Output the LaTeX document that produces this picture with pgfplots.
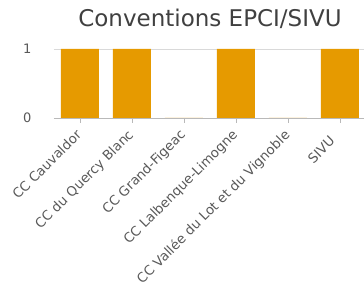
\documentclass[border=0pt]{standalone}
\usepackage{fontspec}
\setmainfont{DejaVu Sans}
\usepackage{pgfplots}
\pgfplotsset{compat=1.18}
\definecolor{barc}{RGB}{230,154,0}
\definecolor{txt}{RGB}{64,64,64}
\definecolor{lab}{RGB}{89,89,89}
\begin{document}
\begin{tikzpicture}[x=1pt,y=1pt]
\useasboundingbox (0,0) rectangle (364,291);
\node[text=txt, font=\fontsize{23}{27}\selectfont] at (210,272) {Conventions EPCI/SIVU};
\begin{axis}[at={(54pt,173pt)}, anchor=south west, scale only axis,
  width=312pt, height=69pt,
  xmin=-0.5, xmax=5.5, ymin=0, ymax=1,
  ybar, bar width=38pt, bar shift=0pt,
  axis x line*=bottom, axis y line*=left,
  y axis line style={draw=none},
  x axis line style={draw=gray!55, line width=0.9pt, -},
  xtick={0,1,2,3,4,5},
  xticklabels={CC Cauvaldor, CC du Quercy Blanc, CC Grand-Figeac, CC Lalbenque-Limogne, CC Vallée du Lot et du Vignoble, SIVU\kern9pt},
  xticklabel style={xshift=-5pt, yshift=-4pt, rotate=45, anchor=north east, font=\fontsize{13.3}{16}\selectfont, text=lab, inner sep=1pt},
  xtick style={draw=gray!55, line width=0.9pt},
  tick align=outside, major tick length=5pt,
  ytick={0,1},
  ytick style={draw=none},
  /pgf/number format/assume math mode=true,
  yticklabel style={font=\fontsize{13}{15}\selectfont, text=lab, xshift=-14pt},
  ymajorgrids, grid style={draw=gray!30, line width=0.8pt},
  clip=false,
]
\addplot[fill=barc, draw=none] coordinates {(0,1) (1,1) (2,0) (3,1) (4,0) (5,1)};
\end{axis}
\end{tikzpicture}
\end{document}
